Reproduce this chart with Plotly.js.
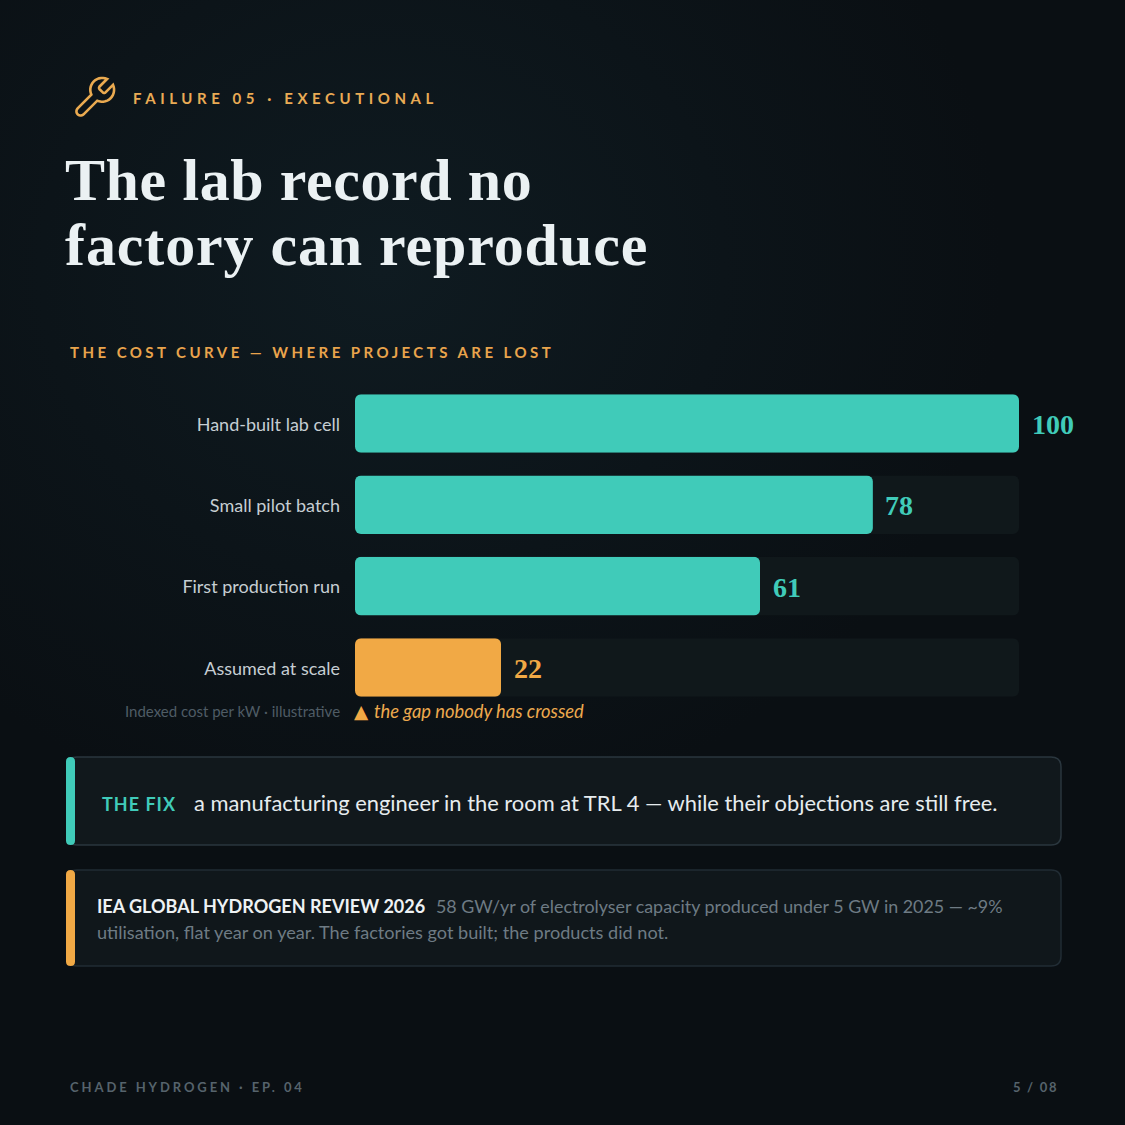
<!DOCTYPE html>
<html>
<head>
<meta charset="utf-8">
<script src="https://cdn.plot.ly/plotly-3.0.1.min.js"></script>
<style>
html,body{margin:0;padding:0;width:1125px;height:1125px;overflow:hidden;
background:radial-gradient(ellipse 620px 560px at 34% 24%, #0f1b21 0%, #0c1419 55%, #0a0f13 100%) #0a0e12;}
#chart{width:1125px;height:1125px;}
.barlayer .point path{clip-path:inset(0 round 6px);}
</style>
</head>
<body>
<div id="chart"></div>
<script>
var categories = ["Hand-built lab cell","Small pilot batch","First production run","Assumed at scale"];
var costIndex = [100,78,61,22];
var trackFull = [100,100,100,100];
var TEAL = "#40cbb9", AMBER = "#f1a945";
var barColors = [TEAL,TEAL,TEAL,AMBER];
var valueFontColors = [TEAL,TEAL,TEAL,AMBER];

var SANS = "Lato", SERIF = "'Liberation Serif'";
var W = 1125;
function px(x){return x/W;}
function py(y){return 1-y/W;}

var annos = [], css = "";
function T(text,x,y,size,color,o){
  o = o||{};
  var a = {text:text,xref:"paper",yref:"paper",x:px(x),y:py(y),xanchor:o.anchor||"left",yanchor:"middle",
    showarrow:false,borderpad:0,borderwidth:0,align:o.anchor||"left",
    font:{family:o.family||SANS,size:size,color:color,weight:o.weight||400,style:o.style||"normal"}};
  if(o.ls){css += '.annotation[data-index="'+annos.length+'"] text{letter-spacing:'+o.ls+'px;}\n';}
  annos.push(a);
}
T("FAILURE 05 · EXECUTIONAL",133,98,15,"#e9ab55",{weight:700,ls:4.57});
T("The lab record no",65,180,60,"#ebf1f3",{family:SERIF,weight:700,ls:0.6});
T("factory can reproduce",65,245,60,"#ebf1f3",{family:SERIF,weight:700,ls:0.9});
T("THE COST CURVE — WHERE PROJECTS ARE LOST",70,352,15,"#e9a44c",{weight:700,ls:3.45});
T("Indexed cost per kW · illustrative",340,711,15,"#4f5c65",{anchor:"right"});
T("▲",354,712,18.5,AMBER,{family:"DejaVu Sans"});
T("the gap nobody has crossed",374,711,18.35,"#eda94e",{style:"italic"});
T("THE FIX",102,804,18,"#40cbb9",{weight:700,ls:1.0});
T("a manufacturing engineer in the room at TRL 4 — while their objections are still free.",194,802,21.9,"#e6ecee");
T("IEA GLOBAL HYDROGEN REVIEW 2026",97,906,18.05,"#eef2f4",{weight:700});
T("58 GW/yr of electrolyser capacity produced under 5 GW in 2025 — ~9%",436,906,17.87,"#6e7b84");
T("utilisation, flat year on year. The factories got built; the products did not.",97,932,18.13,"#6e7b84");
T("CHADE HYDROGEN · EP. 04",70,1087,13,"#56636c",{weight:700,ls:2.92});
T("5 / 08",1013,1087,13,"#56636c",{weight:700,ls:1.7});

// value labels, positioned through the data axes
categories.forEach(function(c,i){
  annos.push({text:String(costIndex[i]),xref:"x",yref:"y",x:costIndex[i],y:c,xanchor:"left",yanchor:"middle",
    xshift:11.5,yshift:-1,showarrow:false,borderpad:0,
    font:{family:SERIF,size:28,color:valueFontColors[i],weight:700}});
});

var st = document.createElement("style"); st.textContent = css; document.head.appendChild(st);

function rr(x0,y0,x1,y1,r){
  return ["M",px(x0+r),py(y0),"L",px(x1-r),py(y0),"Q",px(x1),py(y0),px(x1),py(y0+r),
    "L",px(x1),py(y1-r),"Q",px(x1),py(y1),px(x1-r),py(y1),"L",px(x0+r),py(y1),
    "Q",px(x0),py(y1),px(x0),py(y1-r),"L",px(x0),py(y0+r),"Q",px(x0),py(y0),px(x0+r),py(y0),"Z"].join(" ");
}
function arcPts(x0,y0,x1,y1,r,sweep){
  var mx=(x0+x1)/2,my=(y0+y1)/2,dx=x1-x0,dy=y1-y0,d=Math.hypot(dx,dy);
  var h=Math.sqrt(Math.max(0,r*r-d*d/4)),s=sweep?1:-1;
  var cx=mx-s*h*dy/d,cy=my+s*h*dx/d;
  var a0=Math.atan2(y0-cy,x0-cx),a1=Math.atan2(y1-cy,x1-cx),da=a1-a0;
  if(sweep&&da<0)da+=2*Math.PI; if(!sweep&&da>0)da-=2*Math.PI;
  var out=[];for(var i=1;i<=14;i++){out.push([cx+r*Math.cos(a0+da*i/14),cy+r*Math.sin(a0+da*i/14)]);}
  return out;
}
function wrenchPath(ox,oy,s){
  var p=[[14.7,6.3]];
  p=p.concat(arcPts(14.7,6.3,14.7,7.7,1,0));p.push([16.3,9.3]);
  p=p.concat(arcPts(16.3,9.3,17.7,9.3,1,0));p.push([21.47,5.53]);
  p=p.concat(arcPts(21.47,5.53,13.53,13.47,6,1));p.push([6.62,20.38]);
  p=p.concat(arcPts(6.62,20.38,3.62,17.38,2.12,1));p.push([10.53,10.47]);
  p=p.concat(arcPts(10.53,10.47,18.47,2.53,6,1));
  return p.map(function(q,i){return (i?"L ":"M ")+px(ox+q[0]*s)+" "+py(oy+q[1]*s);}).join(" ")+" Z";
}
function shape(path,fill,line,lw){
  return {type:"path",xref:"paper",yref:"paper",path:path,fillcolor:fill,layer:"below",
    line:{color:line||"rgba(0,0,0,0)",width:lw||0}};
}
var shapes = [
  shape(rr(67,757,1061,845,10),"#11181c","#2a363e",1.5),
  shape(rr(66,757,75,845,4.5),TEAL),
  shape(rr(67,870,1061,966,10),"#10171b","#212c34",1.5),
  shape(rr(66,870,75,966,4.5),AMBER),
  shape(wrenchPath(70.5,74,1.98),"rgba(0,0,0,0)","#eaaa50",2.6)
];

var traces = [
  {type:"bar",orientation:"h",name:"Track",x:trackFull,y:categories,
   marker:{color:"#10181b",line:{width:0}},width:0.72,hoverinfo:"skip"},
  {type:"bar",orientation:"h",name:"Indexed cost per kW",x:costIndex,y:categories,
   marker:{color:barColors,line:{width:0}},width:0.72,hoverinfo:"skip"}
];

var layout = {
  width:1125,height:1125,margin:{l:0,r:0,t:0,b:0,pad:0},
  paper_bgcolor:"rgba(0,0,0,0)",plot_bgcolor:"rgba(0,0,0,0)",
  barmode:"overlay",showlegend:false,
  font:{family:SANS,color:"#c9d1d6"},
  xaxis:{domain:[355/W,1019/W],range:[0,100],visible:false,fixedrange:true},
  yaxis:{domain:[1-708.1/W,1-382.8/W],type:"category",categoryorder:"array",categoryarray:categories,
    range:[3.5,-0.5],showgrid:false,zeroline:false,showline:false,ticks:"",
    ticklabelstandoff:14,ticklabelshift:-1,automargin:false,fixedrange:true,
    tickfont:{family:SANS,size:18,color:"#c6ced3"}},
  annotations:annos,shapes:shapes
};
Plotly.newPlot("chart",traces,layout,{displayModeBar:false,staticPlot:true,responsive:false});
</script>
</body>
</html>
